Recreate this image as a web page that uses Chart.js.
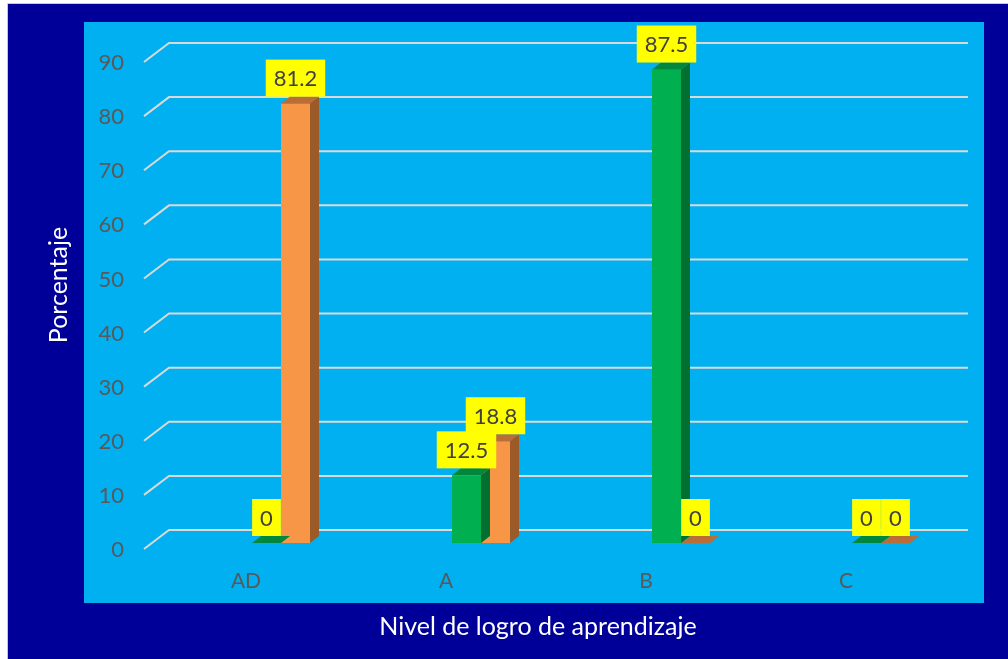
<!DOCTYPE html>
<html>
<head>
<meta charset="utf-8">
<script src="https://cdn.jsdelivr.net/npm/chart.js@4.4.0/dist/chart.umd.min.js"></script>
<style>
  html, body { margin: 0; padding: 0; background: #fff; overflow: hidden; }
</style>
</head>
<body>
<canvas id="chart" width="1008" height="659"></canvas>
<script>
const categories = ['AD', 'A', 'B', 'C'];
const greenValues = [0, 12.5, 87.5, 0];
const orangeValues = [81.2, 18.8, 0, 0];
const yMin = 0, yMax = 90, yStep = 10;

const FONT = 'Lato, "Open Sans", sans-serif';
const DEPTH_X = 9, DEPTH_Y = 7;

// backgrounds, axis titles, back-wall grid, 3d faces and label boxes
const excel3d = {
    id: 'excel3d',
    beforeDraw(chart) {
        const ctx = chart.ctx;
        ctx.save();
        ctx.fillStyle = '#fff';
        ctx.fillRect(0, 0, chart.width, chart.height);
        ctx.fillStyle = '#000099';
        ctx.fillRect(8, 4, chart.width - 8, chart.height - 4);
        ctx.strokeStyle = '#c8c8d0';
        ctx.lineWidth = 1;
        ctx.beginPath();
        ctx.moveTo(7.5, chart.height);
        ctx.lineTo(7.5, 3.5);
        ctx.lineTo(chart.width, 3.5);
        ctx.stroke();
        ctx.fillStyle = '#00B0F0';
        ctx.fillRect(84, 22, 900, 581);

        ctx.fillStyle = '#ffffff';
        ctx.font = '25px ' + FONT;
        ctx.textAlign = 'center';
        ctx.textBaseline = 'middle';
        ctx.fillText('Nivel de logro de aprendizaje', 538, 627);
        ctx.translate(59, 285);
        ctx.rotate(-Math.PI / 2);
        ctx.fillText('Porcentaje', 0, 0);
        ctx.restore();
    },
    beforeDatasetsDraw(chart) {
        const ctx = chart.ctx;
        const y = chart.scales.y;
        ctx.save();
        ctx.strokeStyle = '#d9d9d9';
        ctx.lineWidth = 2;
        y.ticks.forEach(t => {
            const py = y.getPixelForValue(t.value);
            ctx.beginPath();
            ctx.moveTo(144, py + 6);
            ctx.lineTo(169, py - 13);
            ctx.lineTo(968, py - 13);
            ctx.stroke();
        });
        ctx.restore();
    },
    afterDatasetDraw(chart, args) {
        const ctx = chart.ctx;
        const ds = chart.data.datasets[args.index];
        ctx.save();
        args.meta.data.forEach(el => {
            const p = el.getProps(['x', 'y', 'base', 'width'], true);
            const l = p.x - p.width / 2, r = p.x + p.width / 2;
            ctx.fillStyle = ds.sideColor;
            ctx.beginPath();
            ctx.moveTo(r, p.y);
            ctx.lineTo(r + DEPTH_X, p.y - DEPTH_Y);
            ctx.lineTo(r + DEPTH_X, p.base - DEPTH_Y);
            ctx.lineTo(r, p.base);
            ctx.closePath();
            ctx.fill();
            ctx.fillStyle = ds.topColor;
            ctx.beginPath();
            ctx.moveTo(l, p.y);
            ctx.lineTo(l + DEPTH_X, p.y - DEPTH_Y);
            ctx.lineTo(r + DEPTH_X, p.y - DEPTH_Y);
            ctx.lineTo(r, p.y);
            ctx.closePath();
            ctx.fill();
        });
        ctx.restore();
    },
    afterDatasetsDraw(chart) {
        const ctx = chart.ctx;
        ctx.save();
        ctx.font = '22px ' + FONT;
        ctx.textAlign = 'center';
        ctx.textBaseline = 'middle';
        chart.data.datasets.forEach((ds, i) => {
            chart.getDatasetMeta(i).data.forEach((el, j) => {
                const p = el.getProps(['x', 'y'], true);
                const txt = String(ds.data[j]);
                const w = ctx.measureText(txt).width + 16;
                const h = 37;
                const bottom = p.y - 7;
                ctx.fillStyle = '#ffff00';
                ctx.fillRect(p.x - w / 2, bottom - h, w, h);
                ctx.fillStyle = '#404040';
                ctx.fillText(txt, p.x, bottom - h / 2 + 1);
            });
        });
        ctx.restore();
    }
};

new Chart(document.getElementById('chart').getContext('2d'), {
    type: 'bar',
    data: {
        labels: categories,
        datasets: [{
            label: 'Serie 1',
            data: greenValues,
            backgroundColor: '#00B050',
            sideColor: '#006F2F',
            topColor: '#00873D'
        }, {
            label: 'Serie 2',
            data: orangeValues,
            backgroundColor: '#F79646',
            sideColor: '#9C5A28',
            topColor: '#B86E36'
        }]
    },
    options: {
        responsive: false,
        animation: false,
        layout: { padding: { left: 0, right: 27, top: 56, bottom: 0 } },
        datasets: { bar: { barPercentage: 1, categoryPercentage: 0.29 } },
        plugins: {
            legend: { display: false },
            tooltip: { enabled: false }
        },
        scales: {
            x: {
                grid: { display: false, drawTicks: false },
                border: { display: false },
                ticks: { color: '#595959', font: { family: FONT, size: 21 }, padding: 26, labelOffset: -35 },
                afterFit(scale) { scale.height = 116; }
            },
            y: {
                min: yMin,
                max: yMax,
                grid: { display: false, drawTicks: false },
                border: { display: false },
                ticks: { stepSize: yStep, color: '#595959', font: { family: FONT, size: 22 }, padding: 57, labelOffset: 7 },
                afterFit(scale) {
                    scale.width = 181;
                    scale.paddingTop = 0;
                    scale.paddingBottom = 0;
                }
            }
        }
    },
    plugins: [excel3d]
});
</script>
</body>
</html>
